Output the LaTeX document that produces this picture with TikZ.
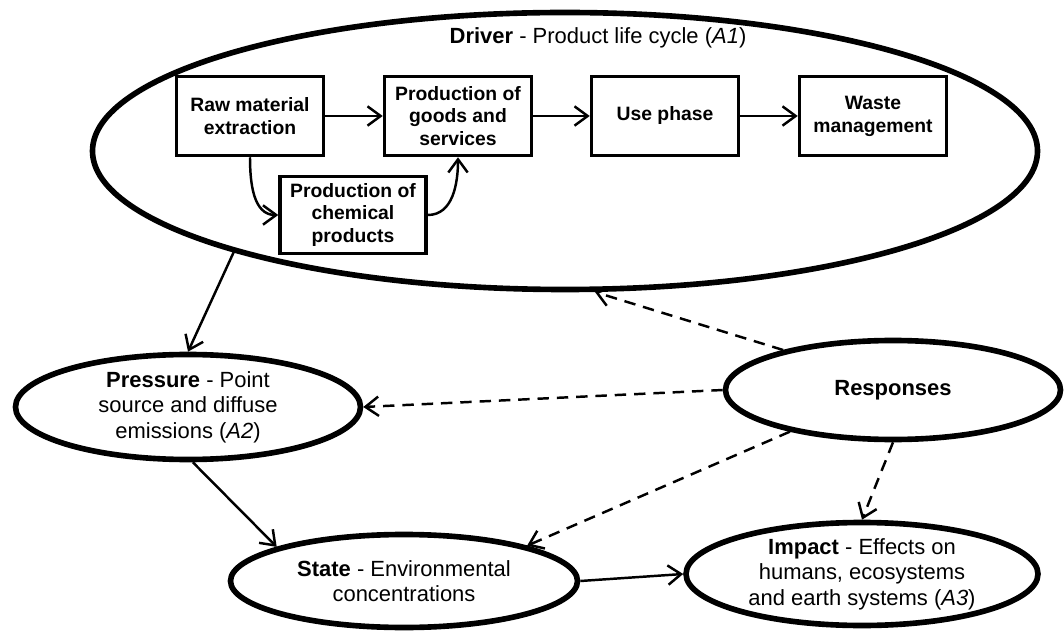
\documentclass[tikz,border=0pt]{standalone}
\usepackage{fontspec}
\setmainfont{Liberation Sans}
\usetikzlibrary{arrows.meta, positioning, shapes.geometric}

\begin{document}
\begin{tikzpicture}[
    every node/.style={font=\fontsize{12.5}{14.5}\selectfont},
    box/.style={draw, rectangle, line width=2pt, minimum width=2.94cm,
                minimum height=1.58cm, inner sep=0pt, align=center,
                font=\fontsize{11}{13}\selectfont\bfseries},
    oval/.style={draw, ellipse, line width=3.2pt, inner sep=0pt, align=center},
    arr/.style={-{Straight Barb[length=7.5pt, width=11pt]}, line width=1.4pt},
    darr/.style={arr, dash pattern=on 6.5pt off 4.5pt}
]
\useasboundingbox (0,0) rectangle (21.28,12.64);
% Driver: life cycle
\node[oval, minimum width=18.9cm, minimum height=5.54cm] (driver) at (11.30, 9.62) {};
\node (drivertxt) at (11.96, 11.88) {\textbf{Driver} - Product life cycle (\textit{A1})};
\node[box] (raw)   at (5.00, 10.32) {Raw material\\extraction};
\node[box] (prod)  at (9.16, 10.32) {Production of\\goods and\\services};
\node[box] (use)   at (13.30, 10.32) {Use phase};
\node[box] (waste) at (17.46, 10.32) {Waste\\management};
\node[box, minimum width=2.92cm, minimum height=1.54cm] (chem) at (7.06, 8.34)
    {Production of\\chemical\\products};
\foreach \a/\b in {raw/prod, prod/use, use/waste}
    \draw[arr] (\a) -- (\b);
\draw[arr] (raw.south) to[out=-90, in=180] (chem.west);
\draw[arr] (chem.east) to[out=0, in=-90] (prod.south);
% Pressure, state, impact, responses
\node[oval, minimum width=6.9cm, minimum height=2.1cm] (pressure) at (3.76, 4.50)
    {\textbf{Pressure} - Point\\source and diffuse\\emissions (\textit{A2})};
\node[oval, minimum width=6.94cm, minimum height=1.86cm] (state) at (8.08, 1.02)
    {\textbf{State} - Environmental\\concentrations};
\node[oval, minimum width=7.04cm, minimum height=2.06cm] (impact) at (17.24, 1.16)
    {\textbf{Impact} - Effects on\\humans, ecosystems\\and earth systems (\textit{A3})};
\node[oval, minimum width=6.7cm, minimum height=1.98cm] (resp) at (17.86, 4.84)
    {\textbf{Responses}};
% Causal chain
\draw[arr] (driver.197) -- (pressure.north);
\draw[arr] (pressure.-85) -- (state.165);
\draw[arr] (state.east) -- (impact.west);
% Feedback from responses
\draw[darr] (resp.160) -- (driver.-78);
\draw[darr] (resp.west) -- (pressure.east);
\draw[darr] (resp.202) -- (state.16);
\draw[darr] (resp.south) -- (impact.north);
\end{tikzpicture}
\end{document}
